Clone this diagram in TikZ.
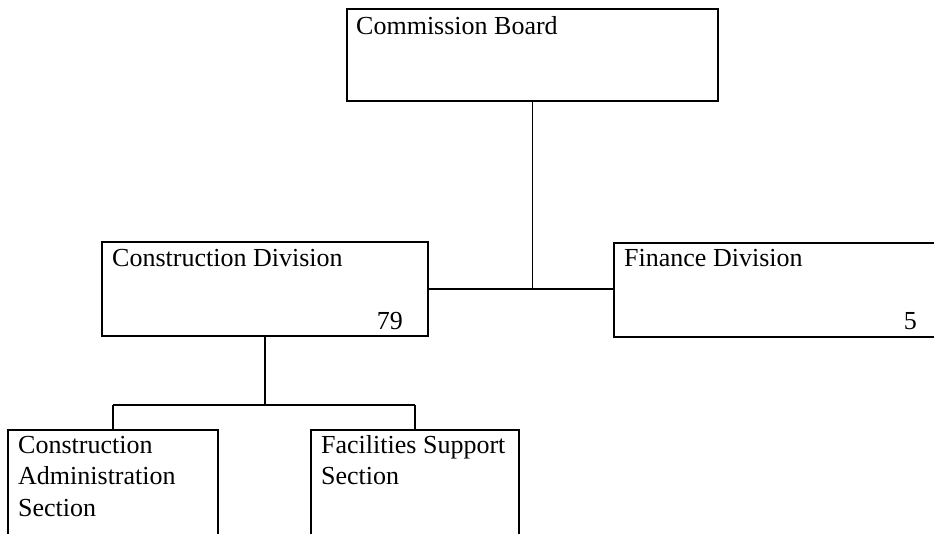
\documentclass[tikz,border=0pt]{standalone}
\usepackage{fontspec}
\setmainfont{Liberation Serif}
\begin{document}
\begin{tikzpicture}[x=1pt,y=-1pt,
  box/.style={draw=black,line width=1.2pt,fill=none,inner sep=0pt,minimum width=#1},
  lbl/.style={inner sep=0pt,anchor=base west,align=left,font=\fontsize{26}{31.7}\selectfont},
  num/.style={inner sep=0pt,anchor=base east,font=\fontsize{26}{31.7}\selectfont},
  conn/.style={draw=black,line width=1.2pt}]
\useasboundingbox (0,0) rectangle (934,534);
\begin{scope}
\clip (0,0) rectangle (934,534);
\node[box=371pt,minimum height=92pt] (cb) at (532.5,55) {};
\node[box=326pt,minimum height=94pt] (cd) at (265,289) {};
\node[box=326pt,minimum height=94pt] (fd) at (777,290) {};
\node[box=210pt,minimum height=110pt] (cas) at (113,485) {};
\node[box=208pt,minimum height=110pt] (fss) at (415,485) {};
\coordinate (j1) at (cb.south |- cd.east);
\coordinate (j2) at (265,405);
\coordinate (jl) at (cas.north |- j2);
\coordinate (jr) at (fss.north |- j2);
\draw[conn] (cb.south) -- (j1);
\draw[conn] (cd.east) -- (fd.west |- cd.east);
\draw[conn] (cd.south) -- (j2);
\draw[conn] (jl) -- (jr);
\draw[conn] (jl) -- (cas.north);
\draw[conn] (jr) -- (fss.north);
\end{scope}
\node[lbl] (tcb) at (356,35) {Commission Board};
\node[lbl] (tcd) at (112,267) {Construction Division};
\node[num] (ncd) at (403,330) {79};
\node[lbl] (tfd) at (624,267) {Finance Division};
\node[num] (nfd) at (917,330) {5};
\node[lbl] (tcas) at (18,516.4) {Construction\\Administration\\Section};
\node[lbl] (tfss) at (321,484.7) {Facilities Support\\Section};
\end{tikzpicture}
\end{document}
